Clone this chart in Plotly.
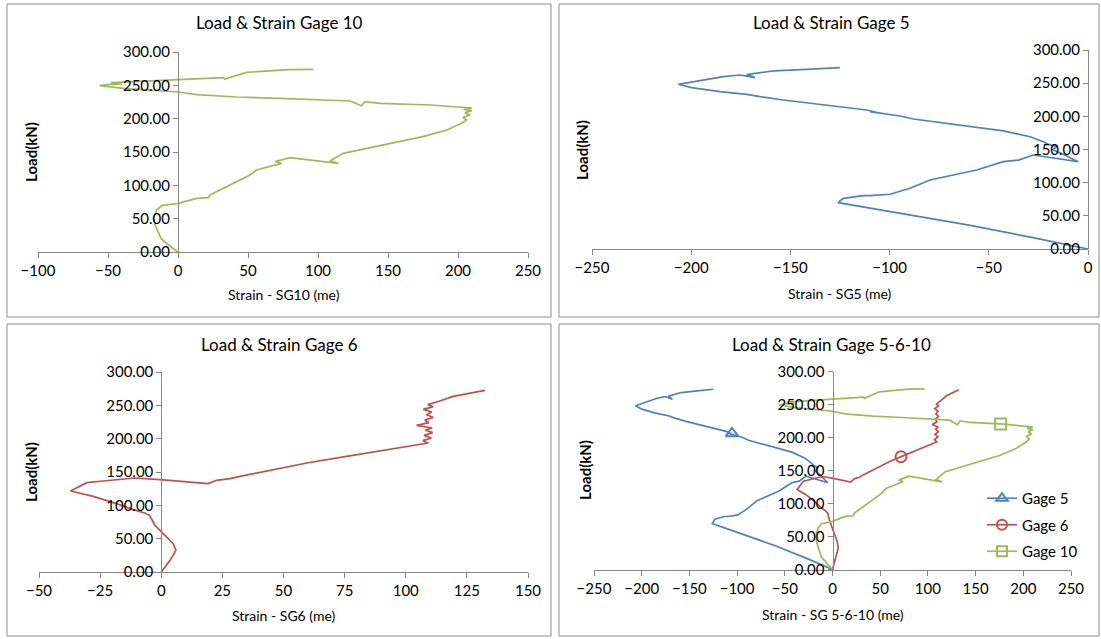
import plotly.graph_objects as go

# strain readings (me) and load (kN)
g10_strain = [0, -5, -12, -16.4, -17.6, -15.2, -11.6, 0, 13.3, 21.7, 22.9, 37, 51.4, 56, 68, 74, 69.5, 80,
              114.5, 108.6, 110.9, 118, 134.8, 151.4, 175, 191.9, 202.6, 206.2, 203.5, 208.6, 205, 209.8,
              204, 210, 199, 180, 144.3, 133.6, 131, 122.9, 72.9, 42, 13.3, 0, -39, -56, -48.6, -40,
              -48, 0, 32.4, 33.5, 41.9, 49, 79, 96.7]
g10_load = [0, 7.5, 20, 40.5, 50.5, 63, 69.5, 73, 80.5, 81.5, 85.5, 100, 115.5, 123, 130, 133, 135.5, 141.5,
            133, 136.5, 139.5, 148, 155.5, 163, 173, 183, 193, 198, 202, 205.5, 209, 212,
            214, 216, 218, 220.5, 223, 225.5, 219.5, 226.5, 230.5, 232.5, 236, 240, 245.5, 249.5, 251.5, 252,
            254, 258, 261.5, 259.5, 264.5, 269.5, 273.5, 274]

g5_strain = [0, -25.9, -60, -126, -123.3, -113.3, -109.9, -99.8, -89.7, -79.6, -67.9, -56.1, -42.7, -35,
             -27.6, -4.9, -12, -18, -15.5, -20, -22.5, -29.2, -42.7, -66.2, -84.7, -88, -94.8, -109.9,
             -104.8, -111.5, -121.6, -128.4, -141.8, -153.6, -165.3, -172, -185.5, -193.9, -199.8,
             -206.5, -192.2, -183.8, -175.4, -167.8, -172, -158.6, -141.8, -133.4, -125]
g5_load = [0, 16.1, 36, 69.8, 76.4, 80.4, 80.4, 82.5, 91.5, 104, 111.6, 119.1, 131.6, 134,
           141.7, 131.6, 142, 150, 154, 158, 161.8, 169.3, 178, 187, 194.5, 196, 200.5, 207,
           204.6, 209.6, 213, 216, 219.7, 224.6, 229.6, 233.2, 237.2, 240.8, 243.2,
           248.3, 255.8, 259.8, 262.3, 258.3, 263, 268.4, 270.9, 272.4, 273.4]

g6_strain = [0, 3.6, 6, 4.9, 0.8, -2.6, -3.3, -4.8, -6.8, -11.5, -18.3, -27.8, -37.1, -30.5, -23.7, -10.8,
             -0.5, 19.2, 22.6, 28.1, 32.2, 36.3, 45.8, 59.5, 75.8, 90.8, 101.7, 109.2, 107, 110.5, 107.5,
             111, 108, 110.8, 104.4, 109.5, 107.8, 111.2, 108.5, 110.6, 107.2, 111.2, 109, 111.9, 113.9,
             119.4, 126.2, 132.4]
g6_load = [0, 17.5, 32.5, 42.5, 57.5, 70, 75, 85, 88.5, 93.5, 102.5, 113.5, 121.5, 134, 136.5, 141,
           138.6, 132.6, 137.5, 140, 143.5, 146.5, 152.5, 163.5, 173.5, 182.5, 190, 193.5, 197, 201, 205,
           209, 213, 216, 220, 224, 228, 232, 236, 240, 244, 248, 251, 254, 256.5,
           263.5, 268.5, 272.5]

# single markers shown on the combined chart
g5_mark = ([-105.4], [206.4])
g6_mark = ([71.8], [171])
g10_mark = ([176.2], [220.5])

x_ticks_g10 = [-100, -50, 0, 50, 100, 150, 200, 250]
x_ticks_g5 = [-250, -200, -150, -100, -50, 0]
x_ticks_g6 = [-50, -25, 0, 25, 50, 75, 100, 125, 150]
x_ticks_all = [-250, -200, -150, -100, -50, 0, 50, 100, 150, 200, 250]
y_ticks = [0, 50, 100, 150, 200, 250, 300]

GREEN = '#9BBB59'
BLUE = '#4F81BD'
RED = '#C0504D'
AXIS = '#868686'
FONT = 'Lato'

W, H = 1101, 639


def px(x):
    return x / W


def py(y):
    return 1 - y / H


def xaxis(lo, hi, ticks, left, right, ya):
    return dict(range=[lo, hi], domain=[px(left), px(right)], tickvals=ticks, anchor=ya,
                showgrid=False, zeroline=False, showline=True, linecolor=AXIS, linewidth=1,
                ticks='outside', ticklen=5, tickcolor=AXIS,
                tickfont=dict(family=FONT, size=15, color='#000'), fixedrange=True)


def yaxis(bottom, top, pos):
    return dict(range=[0, 300], domain=[py(bottom), py(top)], tickvals=y_ticks, tickformat='.2f',
                anchor='free', position=pos,
                showgrid=False, zeroline=False, showline=True, linecolor=AXIS, linewidth=1,
                ticks='outside', ticklen=5, tickcolor=AXIS,
                tickfont=dict(family=FONT, size=15, color='#000'), fixedrange=True)


def label(text, x, y, size, angle=0):
    return dict(text=text, x=px(x), y=py(y), xref='paper', yref='paper', showarrow=False,
                xanchor='center', yanchor='middle', textangle=angle,
                font=dict(family=FONT, size=size, color='#000'))


fig = go.Figure()

# panel 1 - gage 10
fig.add_trace(go.Scatter(x=g10_strain, y=g10_load, mode='lines', line=dict(color=GREEN, width=1.7),
                         xaxis='x', yaxis='y', showlegend=False))
# panel 2 - gage 5
fig.add_trace(go.Scatter(x=g5_strain, y=g5_load, mode='lines', line=dict(color=BLUE, width=1.7),
                         xaxis='x2', yaxis='y2', showlegend=False))
# panel 3 - gage 6
fig.add_trace(go.Scatter(x=g6_strain, y=g6_load, mode='lines', line=dict(color=RED, width=1.7),
                         xaxis='x3', yaxis='y3', showlegend=False))
# panel 4 - all three
series = [('Gage 5', g5_strain, g5_load, g5_mark, BLUE, 'triangle-up-open'),
          ('Gage 6', g6_strain, g6_load, g6_mark, RED, 'circle-open'),
          ('Gage 10', g10_strain, g10_load, g10_mark, GREEN, 'square-open')]
for name, sx, sy, mk, col, sym in series:
    fig.add_trace(go.Scatter(x=sx, y=sy, mode='lines', line=dict(color=col, width=1.7),
                             xaxis='x4', yaxis='y4', showlegend=False))
    fig.add_trace(go.Scatter(x=mk[0], y=mk[1], mode='markers',
                             marker=dict(symbol=sym, size=11, color=col, line=dict(width=2, color=col)),
                             xaxis='x4', yaxis='y4', showlegend=False))
    fig.add_trace(go.Scatter(x=[None], y=[None], mode='lines+markers', name=name, legendgroup=name,
                             line=dict(color=col, width=1.7),
                             marker=dict(symbol=sym, size=10, color=col, line=dict(width=2, color=col)),
                             xaxis='x4', yaxis='y4'))

# panel frames
shapes = []
for x0, y0, x1, y1 in [(7, 4, 551, 317), (559, 4, 1099, 317), (7, 324, 551, 636), (559, 324, 1099, 636)]:
    shapes.append(dict(type='rect', xref='paper', yref='paper', x0=px(x0), x1=px(x1), y0=py(y1), y1=py(y0),
                       line=dict(color='#8c8c8c', width=1)))

annotations = []
for t, x, y in [('Load & Strain Gage 10', 279, 23), ('Load & Strain Gage 5', 831, 23),
                ('Load & Strain Gage 6', 279, 344), ('Load & Strain Gage 5-6-10', 831, 344)]:
    annotations.append(label(t, x, y, 17))
for t, x, y in [('Strain - SG10 (me)', 284, 294), ('Strain - SG5 (me)', 840, 293),
                ('Strain - SG6 (me)', 284, 615), ('Strain - SG 5-6-10 (me)', 833, 614)]:
    annotations.append(label(t, x, y, 14))
for x, y in [(31, 152), (582, 150), (31, 472), (585, 470)]:
    annotations.append(label('<b>Load(kN)</b>', x, y, 15, -90))

fig.update_layout(
    width=W, height=H,
    margin=dict(l=0, r=0, t=0, b=0, pad=0, autoexpand=False),
    paper_bgcolor='white', plot_bgcolor='white',
    xaxis=xaxis(-100, 250, x_ticks_g10, 38, 528, 'y'),
    yaxis=yaxis(252, 52, px(178)),
    xaxis2=xaxis(-250, 0, x_ticks_g5, 592, 1088, 'y2'),
    yaxis2=yaxis(249, 50, px(1088)),
    xaxis3=xaxis(-50, 150, x_ticks_g6, 39, 528, 'y3'),
    yaxis3=yaxis(572, 372, px(161.3)),
    xaxis4=xaxis(-250, 250, x_ticks_all, 594, 1071, 'y4'),
    yaxis4=yaxis(569.5, 371.7, px(832.5)),
    legend=dict(x=px(982), y=py(482), xanchor='left', yanchor='top', tracegroupgap=4,
                font=dict(family=FONT, size=15, color='#000'), bgcolor='rgba(0,0,0,0)'),
    shapes=shapes,
    annotations=annotations,
)

# the page template keeps the browser's 8px body margin; drop it so the figure sits at 0,0
fig.write_html("out.html", config={'displayModeBar': False},
               post_script="document.body.style.margin='0';")
